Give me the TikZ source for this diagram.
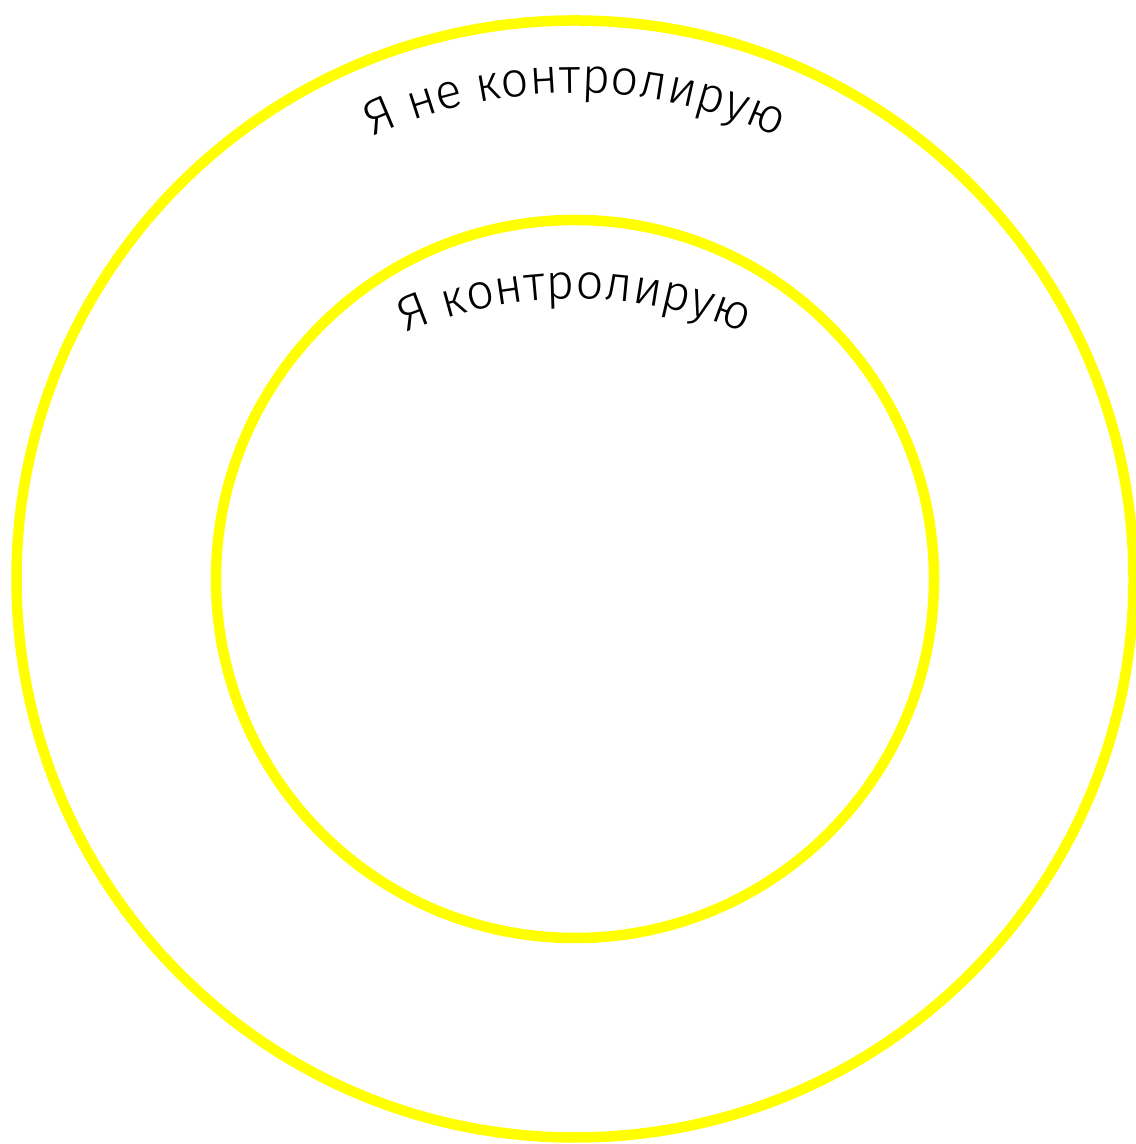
\documentclass[tikz,border=0pt]{standalone}
\usepackage{fontspec}
\setmainfont{Fira Sans Light}
\usetikzlibrary{decorations.text}
\definecolor{ringyellow}{RGB}{255,255,0}

\begin{document}
\begin{tikzpicture}[ring/.style={draw=ringyellow, circle, inner sep=0pt, line width=1.05mm},
    arc label/.style={decorate, decoration={text along path, text align=center, text={|\fontsize{14}{17}\selectfont|#1}}}]
    \useasboundingbox (0,0) rectangle (11.35,11.44);
    \coordinate (centre) at (5.75,5.65);
    \coordinate (inner label centre) at (5.75,4.05);

    \node[ring, minimum size=111.7cm/10] (outer) at (centre) {};
    \node[ring, minimum size=71.8cm/10] (inner) at (centre) {};

    \path[arc label={Я не контролирую}]
        (centre) ++(150:4.86) arc[start angle=150, end angle=30, radius=4.86];
    \path[arc label={Я контролирую}]
        (inner label centre) ++(120:4.4) arc[start angle=120, end angle=60, radius=4.4];
\end{tikzpicture}
\end{document}
